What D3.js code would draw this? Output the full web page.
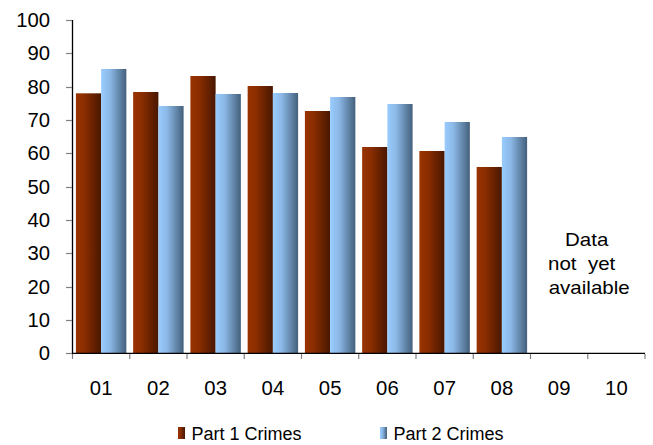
<!DOCTYPE html>
<html><head><meta charset="utf-8">
<script src="https://cdn.jsdelivr.net/npm/d3@7"></script>
<style>html,body{margin:0;padding:0;background:#fff;}svg{display:block;}</style>
</head><body>
<script>
const categories = ["01","02","03","04","05","06","07","08","09","10"];
const part1 = [78.0, 78.4, 83.2, 80.2, 72.7, 61.9, 60.7, 55.9, null, null];
const part2 = [85.3, 74.2, 77.8, 78.1, 76.9, 74.8, 69.4, 64.9, null, null];
const seriesNames = ["Part 1 Crimes", "Part 2 Crimes"];
const yTicks = [0,10,20,30,40,50,60,70,80,90,100];
const noteLines = ["Data", "not  yet", " available"];

const W = 653, H = 445;
const svg = d3.select("body").append("svg").attr("width", W).attr("height", H);
const defs = svg.append("defs");
function grad(id, stops){
  const g = defs.append("linearGradient").attr("id", id).attr("x1","0%").attr("x2","100%").attr("y1","0%").attr("y2","0%");
  stops.forEach(s => g.append("stop").attr("offset", s[0]).attr("stop-color", s[1]));
}
grad("gRed", [["0%","#9a3300"],["35%","#8a2d00"],["100%","#481700"]]);
grad("gBlue", [["0%","#99ccff"],["35%","#8bb8e6"],["100%","#44607c"]]);
const fills = ["url(#gRed)", "url(#gBlue)"];

const x0 = d3.scaleBand().domain(categories).range([72.5, 645]).paddingInner(0).paddingOuter(0);
const inset = 3.4;
const x1 = d3.scaleBand().domain([0,1]).range([inset, x0.bandwidth() - inset]).padding(0);
const y = d3.scaleLinear().domain([0,100]).range([353.3, 20]);

const font = "'Liberation Sans', Arial, sans-serif";
const tickSize = 19.5, sxTick = 1.04;

// bars
const data = categories.map((c,i)=>({c, v:[part1[i], part2[i]]}));
const groups = svg.append("g").selectAll("g").data(data).join("g")
  .attr("transform", d => `translate(${x0(d.c)},0)`);
groups.selectAll("rect").data(d => d.v.map((v,k)=>({v,k})).filter(e => e.v != null)).join("rect")
  .attr("x", e => x1(e.k)).attr("width", x1.bandwidth())
  .attr("y", e => y(e.v)).attr("height", e => y(0) - y(e.v))
  .attr("fill", e => fills[e.k]);

// y axis
const ya = svg.append("g");
ya.append("line").attr("x1",72.5).attr("x2",72.5).attr("y1",y(100)).attr("y2",y(0)).attr("stroke","#000").attr("stroke-width",1.3);
ya.selectAll("line.t").data(yTicks).join("line").attr("class","t")
  .attr("x1",66).attr("x2",72).attr("y1",d=>Math.round(y(d))+0.5).attr("y2",d=>Math.round(y(d))+0.5)
  .attr("stroke","#808080").attr("stroke-width",1.2);
ya.selectAll("text").data(yTicks).join("text")
  .attr("transform", d => `translate(50,${y(d)+7}) scale(${sxTick},1)`)
  .attr("text-anchor","end").attr("font-family",font).attr("font-size",tickSize).attr("fill","#000")
  .text(d => d);

// x axis
const xa = svg.append("g");
xa.append("line").attr("x1",72).attr("x2",645).attr("y1",353.3).attr("y2",353.3).attr("stroke","#000").attr("stroke-width",1.3);
const bounds = categories.map(c => x0(c)).concat([x0.range()[1]]);
xa.selectAll("line.t").data(bounds).join("line").attr("class","t")
  .attr("x1",d=>d).attr("x2",d=>d).attr("y1",354).attr("y2",359)
  .attr("stroke","#808080").attr("stroke-width",1.2);
xa.selectAll("text").data(categories).join("text")
  .attr("transform", d => `translate(${x0(d)+x0.bandwidth()/2},394.5) scale(${sxTick},1)`)
  .attr("text-anchor","middle").attr("font-family",font).attr("font-size",tickSize).attr("fill","#000")
  .text(d => d);

// note
const note = svg.append("g");
note.selectAll("text").data(noteLines).join("text")
  .attr("transform", (d,i) => `translate(${[565,548,543][i]},${246+i*24}) scale(1.14,1)`)
  .attr("text-anchor","start").attr("font-family",font).attr("font-size",18).attr("fill","#000")
  .style("white-space","pre")
  .text(d => d);

// legend
const legX = [178, 380];
const leg = svg.append("g").selectAll("g").data(seriesNames).join("g")
  .attr("transform",(d,i)=>`translate(${legX[i]},427)`);
leg.append("rect").attr("width",7).attr("height",12).attr("fill",(d,i)=>fills[i]);
leg.append("text").attr("x",13.5).attr("y",12.5)
  .attr("font-family",font).attr("font-size",18).attr("fill","#000").text(d=>d);
</script>
</body></html>
